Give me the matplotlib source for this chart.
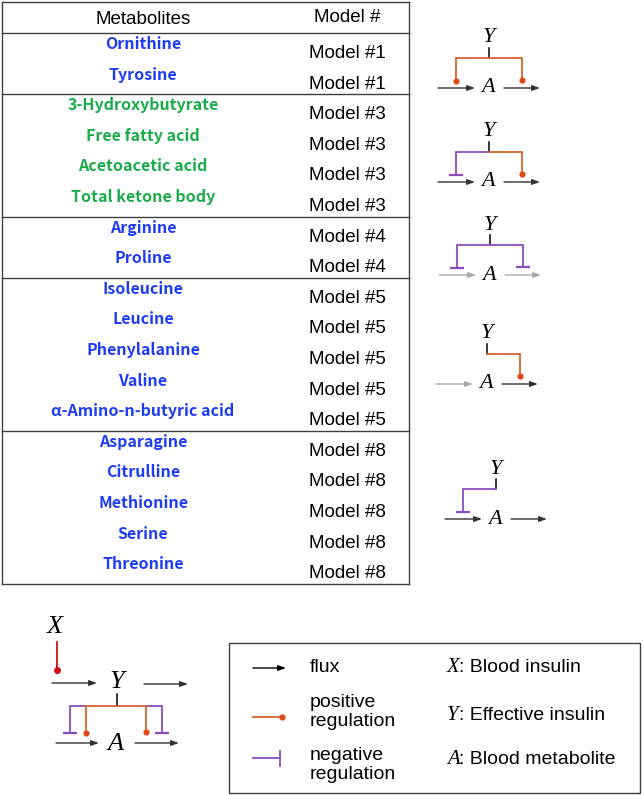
import matplotlib.pyplot as plt

# table contents
metabolites = ["Ornithine", "Tyrosine",
               "3-Hydroxybutyrate", "Free fatty acid", "Acetoacetic acid", "Total ketone body",
               "Arginine", "Proline",
               "Isoleucine", "Leucine", "Phenylalanine", "Valine", "α-Amino-n-butyric acid",
               "Asparagine", "Citrulline", "Methionine", "Serine", "Threonine"]
model_ids = [1, 1, 3, 3, 3, 3, 4, 4, 5, 5, 5, 5, 5, 8, 8, 8, 8, 8]
name_colors = {1: "#1f3cf5", 3: "#1aab4a", 4: "#1f3cf5", 5: "#1f3cf5", 8: "#1f3cf5"}

# regulation of inflow (left) and outflow (right) by Y, per model diagram
diagram_models = [1, 3, 4, 5, 8]
left_reg = ["pos", "neg", "neg", None, "neg"]
right_reg = ["pos", "pos", "neg", "pos", None]

ORANGE = "#d2642a"
DOT = "#e04a1a"
PURPLE = "#8a4dbf"
RED = "#cc1111"
LINE = "#404040"

SANS = "Liberation Sans"
SERIF = "Liberation Serif"
GOTHIC = ["Noto Sans CJK JP", "DejaVu Sans"]

fig = plt.figure(figsize=(6.43, 7.96), dpi=100)
ax = fig.add_axes([0, 0, 1, 1])
ax.set_xlim(0, 643)
ax.set_ylim(796, 0)
ax.axis("off")


def arrow(x0, x1, y, color="#333333", lw=1.0):
    ax.annotate("", xy=(x1, y), xytext=(x0, y),
                arrowprops=dict(arrowstyle="-|>,head_length=0.45,head_width=0.16",
                                color=color, lw=lw, shrinkA=0, shrinkB=0,
                                mutation_scale=10))


def branch(x, y0, y1, kind):
    if kind == "pos":
        ax.plot([x, x], [y0, y1], color=ORANGE, lw=1.3, solid_capstyle="butt")
        ax.plot(x, y1, "o", color=DOT, ms=4.5, mec="none")
    else:
        ax.plot([x, x], [y0, y1], color=PURPLE, lw=1.3, solid_capstyle="butt")
        ax.plot([x - 7, x + 7], [y1, y1], color=PURPLE, lw=1.6, solid_capstyle="butt")


def reg_color(kind):
    return ORANGE if kind == "pos" else PURPLE


# ---- table ----
row_y = [44 + 30.6 * i for i in range(len(metabolites))]
x_name, x_model = 143, 347
left, right = 2, 409

ax.text(x_name, 19, "Metabolites", ha="center", va="center", fontsize=13.5, family=SANS)
ax.text(x_model, 17, "Model #", ha="center", va="center", fontsize=13.5, family=SANS)

for name, m, y in zip(metabolites, model_ids, row_y):
    ax.text(x_name, y, name, ha="center", va="center", fontsize=11.5,
            fontweight="bold", color=name_colors[m], family=GOTHIC)
    ax.text(x_model, y + 9.5, f"Model #{m}", ha="center", va="center",
            fontsize=13.5, family=SANS)

seps = [2, 33]
for i in range(1, len(model_ids)):
    if model_ids[i] != model_ids[i - 1]:
        seps.append(row_y[i] - 11)
bottom = row_y[-1] + 19.5
seps.append(bottom)
for y in seps:
    ax.plot([left, right], [y, y], color=LINE, lw=1.0)
ax.plot([left, left], [2, bottom], color=LINE, lw=1.0)
ax.plot([right, right], [2, bottom], color=LINE, lw=1.0)

# ---- model diagrams ----
a_x = [488, 488, 489, 486, 495]
a_y = [88, 182, 275, 384, 519]
flux_col = ["#333333", "#333333", "#aaaaaa", "#aaaaaa", "#333333"]
for ax_, ay, lk, rk, fc in zip(a_x, a_y, left_reg, right_reg, flux_col):
    ax.text(ax_, ay, "A", ha="center", va="center", fontsize=16, style="italic", family=SERIF)
    ax.text(ax_ + 1, ay - 50, "Y", ha="center", va="center", fontsize=16, style="italic", family=SERIF)
    arrow(ax_ - 50, ax_ - 13, ay, color=fc)
    arrow(ax_ + 16, ax_ + 52, ay, color="#333333" if fc == "#333333" or lk is None else fc)
    tx = ax_ + 1
    top = ay - 30
    ax.plot([tx, tx], [ay - 40, top], color="black", lw=1.1)
    if lk is not None:
        xl = ax_ - 32
        ax.plot([xl, tx], [top, top], color=reg_color(lk), lw=1.3)
        branch(xl, top, ay - 7, lk)
    if rk is not None:
        xr = ax_ + 34
        ax.plot([tx, xr], [top, top], color=reg_color(rk), lw=1.3)
        branch(xr, top, ay - 8, rk)

# ---- general model (bottom left) ----
ax.text(55, 627, "X", ha="center", va="center", fontsize=19, style="italic", family=SERIF)
ax.plot([57, 57], [642, 670], color=RED, lw=1.3)
ax.plot(57, 670, "o", color=RED, ms=5, mec="none")
arrow(52, 97, 683)
ax.text(117, 682, "Y", ha="center", va="center", fontsize=19, style="italic", family=SERIF)
arrow(144, 188, 684)
ax.plot([117, 117], [694, 706], color="black", lw=1.1)
ax.plot([70, 86], [706, 706], color=PURPLE, lw=1.3)
ax.plot([146, 162], [706, 706], color=PURPLE, lw=1.3)
ax.plot([86, 146], [706, 706], color=ORANGE, lw=1.3)
branch(70, 706, 733, "neg")
branch(86, 706, 733, "pos")
branch(146, 706, 732, "pos")
branch(162, 706, 733, "neg")
arrow(56, 99, 743)
ax.text(115, 744, "A", ha="center", va="center", fontsize=19, style="italic", family=SERIF)
arrow(135, 179, 743)

# ---- legend box ----
ax.add_patch(plt.Rectangle((229, 643), 411, 150, fill=False, ec=LINE, lw=1.0))
arrow(253, 286, 668, color="black")
ax.text(310, 668, "flux", ha="left", va="center", fontsize=14, family=SANS)
ax.plot([253, 282], [717, 717], color=ORANGE, lw=1.3)
ax.plot(282, 717, "o", color=DOT, ms=4.5, mec="none")
ax.text(310, 712, "positive\nregulation", ha="left", va="center", fontsize=14,
        family=SANS, linespacing=1.15)
ax.plot([253, 280], [758, 758], color=PURPLE, lw=1.3)
ax.plot([280, 280], [751, 766], color=PURPLE, lw=1.3)
ax.text(310, 765, "negative\nregulation", ha="left", va="center", fontsize=14,
        family=SANS, linespacing=1.15)

legend_syms = ["X", "Y", "A"]
legend_desc = ["Blood insulin", "Effective insulin", "Blood metabolite"]
legend_y = [668, 715, 760]
for s, d, y in zip(legend_syms, legend_desc, legend_y):
    ax.text(447, y, s, ha="left", va="center", fontsize=15, style="italic", family=SERIF)
    ax.text(459, y, ": " + d, ha="left", va="center", fontsize=14, family=SANS)

fig.savefig("out.png", dpi=100)
